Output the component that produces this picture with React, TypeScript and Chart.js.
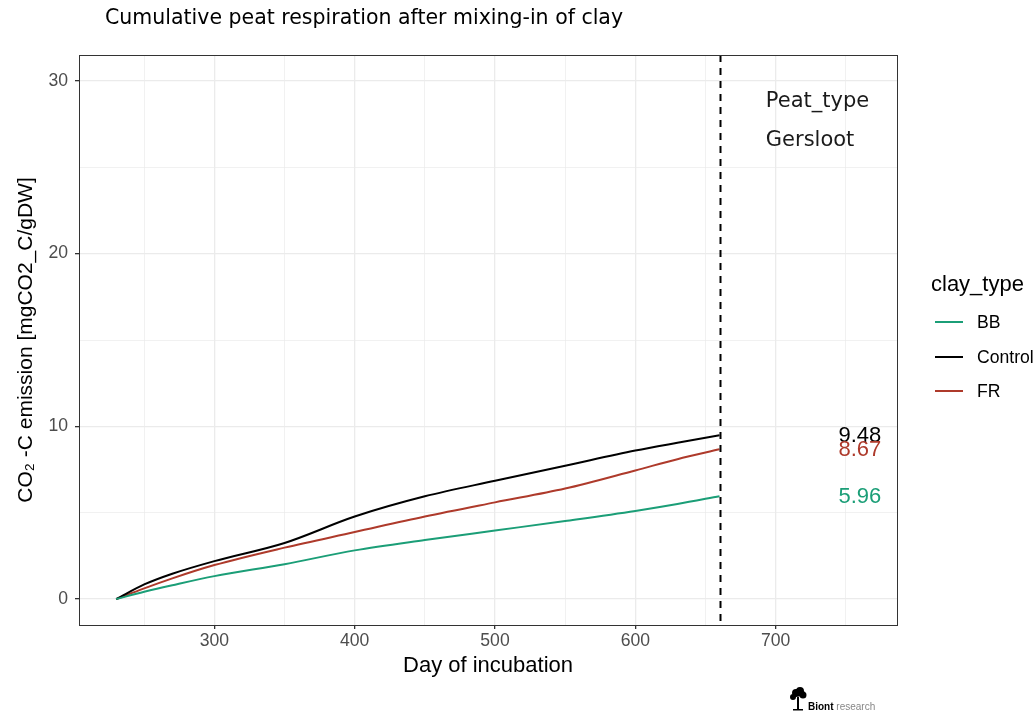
import React, { useEffect, useRef } from "react";
import { Chart, registerables } from "chart.js";

Chart.register(...registerables);

// ---- Data ----
const days = [230, 250, 270, 300, 350, 400, 450, 500, 550, 600, 630, 660];
const bbValues = [0, 0.42, 0.8, 1.33, 2.02, 2.82, 3.42, 3.97, 4.52, 5.1, 5.5, 5.96];
const controlValues = [0, 0.85, 1.47, 2.2, 3.25, 4.78, 5.95, 6.85, 7.72, 8.6, 9.05, 9.48];
const frValues = [0, 0.62, 1.2, 1.97, 2.98, 3.88, 4.78, 5.6, 6.4, 7.45, 8.1, 8.67];
const seriesNames = ["BB", "Control", "FR"];
const seriesColors = ["#1B9E77", "#000000", "#AE3A2B"];
const xTickLabels = [300, 400, 500, 600, 700];
const xGridValues = [250, 300, 350, 400, 450, 500, 550, 600, 650, 700, 750];
const yTickLabels = [0, 10, 20, 30];
const yGridValues = [0, 5, 10, 15, 20, 25, 30];
const cutoffDay = 660;
const labelDay = 760;
const facetTexts = ["Peat_type", "Gersloot"];
const titleText = "Cumulative peat respiration after mixing-in of clay";
const legendTitle = "clay_type";

const allSeries = [bbValues, controlValues, frValues];
const SANS = "'Liberation Sans', Arial, sans-serif";

export default function App() {
  const ref = useRef<HTMLCanvasElement | null>(null);

  useEffect(() => {
    document.body.style.margin = "0";
    const canvas = ref.current;
    if (!canvas) return;

    const decorPlugin = {
      id: "decor",
      beforeDatasetsDraw(chart: any) {
        const ctx = chart.ctx;
        const xs = chart.scales.x;
        const ys = chart.scales.y;
        ctx.save();
        ctx.fillStyle = "#1a1a1a";
        ctx.font = '21px "DejaVu Sans"';
        ctx.textAlign = "left";
        ctx.textBaseline = "middle";
        ctx.fillText(facetTexts[0], xs.getPixelForValue(693), ys.getPixelForValue(28.8));
        ctx.fillText(facetTexts[1], xs.getPixelForValue(693), ys.getPixelForValue(26.55));
        ctx.restore();
      },
      afterDatasetsDraw(chart: any) {
        const ctx = chart.ctx;
        const xs = chart.scales.x;
        const ys = chart.scales.y;
        const ca = chart.chartArea;
        ctx.save();
        const vx = Math.round(xs.getPixelForValue(cutoffDay)) + 0.5;
        ctx.strokeStyle = "#000";
        ctx.lineWidth = 2;
        ctx.setLineDash([7, 6]);
        ctx.beginPath();
        ctx.moveTo(vx, ca.top);
        ctx.lineTo(vx, ca.bottom);
        ctx.stroke();
        ctx.setLineDash([]);
        ctx.font = "22px " + SANS;
        ctx.textAlign = "center";
        ctx.textBaseline = "middle";
        allSeries.forEach((s, i) => {
          const v = s[s.length - 1];
          ctx.fillStyle = seriesColors[i];
          ctx.fillText(v.toFixed(2), xs.getPixelForValue(labelDay), ys.getPixelForValue(v) + 1);
        });
        ctx.strokeStyle = "#333333";
        ctx.lineWidth = 1;
        ctx.strokeRect(Math.round(ca.left) + 0.5, Math.round(ca.top) + 0.5, Math.round(ca.right - ca.left), Math.round(ca.bottom - ca.top));
        ctx.restore();
      },
      afterDraw(chart: any) {
        const ctx = chart.ctx;
        ctx.save();
        ctx.fillStyle = "#000";
        ctx.font = '20.5px "DejaVu Sans"';
        ctx.textAlign = "left";
        ctx.textBaseline = "middle";
        ctx.fillText(titleText, 105, 19);
        ctx.font = "22px " + SANS;
        ctx.fillText(legendTitle, 931, 285);
        ctx.font = "17.6px " + SANS;
        const ys0 = [322, 357, 391];
        seriesNames.forEach((n, i) => {
          ctx.strokeStyle = seriesColors[i];
          ctx.lineWidth = 2;
          ctx.beginPath();
          ctx.moveTo(935, ys0[i]);
          ctx.lineTo(963, ys0[i]);
          ctx.stroke();
          ctx.fillStyle = "#000";
          ctx.fillText(n, 977, ys0[i] + 1);
        });
        // logo
        ctx.fillStyle = "#000";
        ctx.beginPath();
        ctx.arc(796, 693, 4, 0, Math.PI * 2);
        ctx.arc(800, 691, 4, 0, Math.PI * 2);
        ctx.arc(803, 695, 3.5, 0, Math.PI * 2);
        ctx.arc(793, 697, 3, 0, Math.PI * 2);
        ctx.fill();
        ctx.fillRect(797, 697, 2, 12);
        ctx.fillRect(793, 709, 10, 1.5);
        ctx.font = "bold 10px " + SANS;
        ctx.textBaseline = "alphabetic";
        ctx.fillText("Biont", 808, 710);
        const w = ctx.measureText("Biont ").width;
        ctx.font = "10px " + SANS;
        ctx.fillStyle = "#888";
        ctx.fillText("research", 808 + w, 710);
        ctx.restore();
      },
    };

    const chart = new Chart(canvas, {
      type: "line",
      data: {
        datasets: allSeries.map((s, i) => ({
          label: seriesNames[i],
          data: days.map((d, j) => ({ x: d, y: s[j] })),
          borderColor: seriesColors[i],
          backgroundColor: seriesColors[i],
          borderWidth: 2,
          pointRadius: 0,
          cubicInterpolationMode: "monotone" as const,
          fill: false,
        })),
      },
      options: {
        animation: false,
        responsive: false,
        layout: { padding: { top: 55, right: 139, left: 0, bottom: 0 } },
        plugins: { legend: { display: false }, tooltip: { enabled: false }, title: { display: false } },
        scales: {
          x: {
            type: "linear",
            min: 203.5,
            max: 786.5,
            afterBuildTicks: (scale: any) => {
              scale.ticks = xGridValues.map((v) => ({ value: v }));
            },
            afterFit: (scale: any) => {
              scale.height = 88;
            },
            ticks: {
              autoSkip: false,
              maxRotation: 0,
              padding: 2,
              color: "#4D4D4D",
              font: { family: SANS, size: 17.6 },
              callback: (v: any) => (xTickLabels.includes(Number(v)) ? String(v) : ""),
            },
            grid: {
              color: "#EBEBEB",
              lineWidth: (c: any) => (xTickLabels.includes(c.tick?.value) ? 1.3 : 0.7),
              tickColor: (c: any) => (xTickLabels.includes(c.tick?.value) ? "#333333" : "rgba(0,0,0,0)"),
              tickLength: 4,
              drawTicks: true,
            },
            border: { display: false },
            title: {
              display: true,
              text: "Day of incubation",
              color: "#000",
              font: { family: SANS, size: 22 },
              padding: { top: 0, bottom: 34 },
            },
          },
          y: {
            type: "linear",
            min: -1.5,
            max: 31.5,
            afterBuildTicks: (scale: any) => {
              scale.ticks = yGridValues.map((v) => ({ value: v }));
            },
            afterFit: (scale: any) => {
              scale.width = 79;
            },
            ticks: {
              autoSkip: false,
              padding: 7,
              color: "#4D4D4D",
              font: { family: SANS, size: 17.6 },
              callback: (v: any) => (yTickLabels.includes(Number(v)) ? String(v) : ""),
            },
            grid: {
              color: "#EBEBEB",
              lineWidth: (c: any) => (yTickLabels.includes(c.tick?.value) ? 1.3 : 0.7),
              tickColor: (c: any) => (yTickLabels.includes(c.tick?.value) ? "#333333" : "rgba(0,0,0,0)"),
              tickLength: 4,
              drawTicks: true,
            },
            border: { display: false },
            title: {
              display: true,
              text: "CO₂ -C emission [mgCO2_C/gDW]",
              color: "#000",
              font: { family: SANS, size: 21 },
              padding: { top: 14, bottom: 0 },
            },
          },
        },
      },
      plugins: [decorPlugin],
    });

    return () => chart.destroy();
  }, []);

  return <canvas ref={ref} width={1036} height={713} style={{ display: "block" }} />;
}
